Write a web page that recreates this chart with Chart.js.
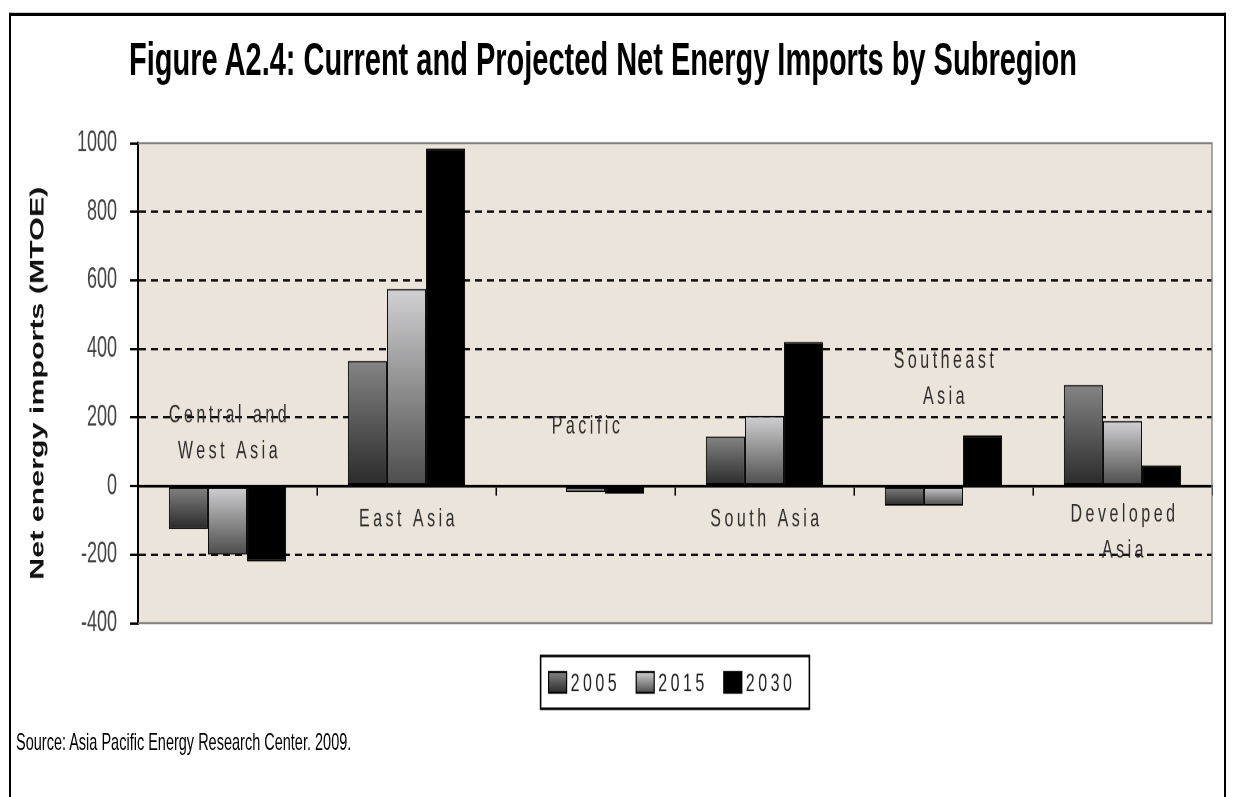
<!DOCTYPE html>
<html>
<head>
<meta charset="utf-8">
<title>Figure A2.4</title>
<script src="https://cdn.jsdelivr.net/npm/chart.js@4.4.1/dist/chart.umd.min.js"></script>
<style>
  html, body { margin: 0; padding: 0; background: #fff; }
  body { width: 1233px; height: 797px; overflow: hidden; position: relative; }
  /* the source picture is stretched vertically, so the whole page is drawn flat and scaled */
  #page {
    position: absolute; left: 0; top: 0; width: 1233px; height: 498px;
    transform: scaleY(1.6); transform-origin: 0 0;
    font-family: "Liberation Sans", Arial, sans-serif; color: #000;
  }
  #frame {
    position: absolute; left: 9px; top: 8px; width: 1217px; height: 600px;
    border: 2.5px solid #000; border-top-width: 2px; border-bottom: none; box-sizing: border-box;
  }
  #title {
    position: absolute; left: 0; top: 23px; width: 1206px; text-align: center;
    font-size: 29px; line-height: 29px; font-weight: bold;
  }
  #source { position: absolute; left: 16px; top: 456px; font-size: 14.5px; line-height: 16px; }
  #wrap { position: absolute; left: 0; top: 0; width: 1233px; height: 498px; }
</style>
</head>
<body>
<div id="page">
  <div id="frame"></div>
  <div id="title">Figure A2.4: Current and Projected Net Energy Imports by Subregion</div>
  <div id="wrap"><canvas id="importsChart"></canvas></div>
  <div id="source">Source: Asia Pacific Energy Research Center. 2009.</div>
</div>
<script>
// Chart data
const subregions = [
  ["Central and", "West Asia"],
  ["East Asia"],
  ["Pacific"],
  ["South Asia"],
  ["Southeast", "Asia"],
  ["Developed", "Asia"]
];
const years = ["2005", "2015", "2030"];
const imports2005 = [-125, 365, 0, 145, -57, 295];
const imports2015 = [-200, 575, -18, 205, -57, 190];
const imports2030 = [-220, 985, -22, 420, 148, 60];
const yTicks = [-400, -200, 0, 200, 400, 600, 800, 1000];

const fontFamily = '"Liberation Sans", Arial, sans-serif';
const fillTop = ["#858585", "#d2d2d4", "#000000"];
const fillBottom = ["#2a2a2a", "#4c4c4c", "#000000"];

// vertical gradient over each bar's own height
function barFill(i) {
  return function (context) {
    const chart = context.chart;
    if (context.type !== "data" || !chart.chartArea) return fillBottom[i];
    const yScale = chart.scales.y;
    const v = context.raw;
    const y1 = yScale.getPixelForValue(Math.max(v, 0));
    const y2 = yScale.getPixelForValue(Math.min(v, 0));
    if (y2 - y1 < 1) return fillBottom[i];
    const g = chart.ctx.createLinearGradient(0, y1, 0, y2);
    g.addColorStop(0, fillTop[i]);
    g.addColorStop(1, fillBottom[i]);
    return g;
  };
}

// beige plot background and the grey frame round it
const plotArea = {
  id: "plotArea",
  beforeDraw(chart) {
    const { ctx, chartArea: a } = chart;
    ctx.save();
    ctx.fillStyle = "#ebe4da";
    ctx.fillRect(a.left, a.top, a.right - a.left, a.bottom - a.top);
    ctx.restore();
  },
  beforeDatasetsDraw(chart) {
    const { ctx, chartArea: a } = chart;
    ctx.save();
    ctx.strokeStyle = "#7d7d7d";
    ctx.lineWidth = 1.3;
    ctx.beginPath();
    ctx.moveTo(a.left, a.top);
    ctx.lineTo(a.right, a.top);
    ctx.lineTo(a.right, a.bottom);
    ctx.lineTo(a.left, a.bottom);
    ctx.stroke();
    ctx.restore();
  }
};

// category names sit next to the zero line, above or below the bars
const categoryLabels = {
  id: "categoryLabels",
  afterDraw(chart, args, opts) {
    const ctx = chart.ctx;
    const x = chart.scales.x;
    const zero = chart.scales.y.getPixelForValue(0);
    ctx.save();
    ctx.font = "16px " + fontFamily;
    ctx.letterSpacing = "3.5px";
    ctx.fillStyle = "#2e2e2e";
    ctx.textAlign = "center";
    ctx.textBaseline = "middle";
    chart.data.labels.forEach((lines, i) => {
      const cx = x.getPixelForValue(i);
      lines.forEach((line, j) => {
        ctx.fillText(line, cx + 2, zero + opts.offsets[i] + j * opts.lineHeight);
      });
    });
    ctx.restore();
  }
};

// boxed legend under the plot
const boxLegend = {
  id: "boxLegend",
  afterDraw(chart, args, opts) {
    const ctx = chart.ctx;
    const a = chart.chartArea;
    ctx.save();
    ctx.font = "16px " + fontFamily;
    ctx.letterSpacing = "3.5px";
    const items = chart.data.datasets.map((ds, i) => ({ label: ds.label, i, w: ctx.measureText(ds.label).width }));
    const sw = 18, sh = 13, gap = 4, itemGap = 16, padL = 8, padR = 14, h = 33;
    let total = padL + padR;
    items.forEach((it, k) => { total += sw + gap + it.w + (k < items.length - 1 ? itemGap : 0); });
    const cx = (a.left + a.right) / 2;
    const cy = a.bottom + opts.offset;
    const left = cx - total / 2;
    ctx.strokeStyle = "#000";
    ctx.lineWidth = 1.6;
    ctx.strokeRect(left, cy - h / 2, total, h);
    let px = left + padL;
    items.forEach((it) => {
      const g = ctx.createLinearGradient(0, cy - sh / 2, 0, cy + sh / 2);
      g.addColorStop(0, fillTop[it.i]);
      g.addColorStop(1, fillBottom[it.i]);
      ctx.fillStyle = g;
      ctx.fillRect(px, cy - sh / 2, sw, sh);
      ctx.lineWidth = 1.2;
      ctx.strokeRect(px, cy - sh / 2, sw, sh);
      px += sw + gap;
      ctx.fillStyle = "#222";
      ctx.textBaseline = "middle";
      ctx.fillText(it.label, px, cy + 1);
      px += it.w + itemGap;
    });
    ctx.restore();
  }
};

const seriesValues = [imports2005, imports2015, imports2030];

new Chart(document.getElementById("importsChart"), {
  type: "bar",
  data: {
    labels: subregions,
    datasets: years.map((year, i) => ({
      label: year,
      data: seriesValues[i],
      backgroundColor: barFill(i),
      borderColor: "#000",
      borderWidth: 1,
      borderSkipped: false,
      barPercentage: 1,
      categoryPercentage: 0.655
    }))
  },
  options: {
    responsive: true,
    maintainAspectRatio: false,
    devicePixelRatio: 2,
    animation: false,
    layout: { padding: { left: 0, top: 89.5, right: 21, bottom: 108.5 } },
    scales: {
      x: {
        position: { y: 0 },
        afterFit: (s) => { s.height = 0; },
        grid: { offset: true, drawOnChartArea: false, color: "#000", lineWidth: 1.5, tickLength: 5 },
        ticks: { display: false },
        border: { color: "#000", width: 1.8 }
      },
      y: {
        min: -400,
        max: 1000,
        afterFit: (s) => { s.width = 138; },
        afterBuildTicks: (s) => { s.ticks = yTicks.map((v) => ({ value: v })); },
        ticks: {
          font: { family: fontFamily, size: 18 },
          color: "#444",
          padding: 13,
          callback: (v) => String(v)
        },
        grid: {
          color: (c) => (c.tick && [0, 1000, -400].includes(c.tick.value)) ? "rgba(0,0,0,0)" : "#111",
          lineWidth: 1.5,
          tickColor: "#000",
          tickLength: 8,
          tickWidth: 1.5
        },
        border: { color: "#000", width: 2, dash: [7, 5] },
        title: {
          display: true,
          text: "Net energy imports (MTOE)",
          font: { family: fontFamily, size: 19, weight: "bold" },
          color: "#111",
          padding: { top: 27, bottom: 0 }
        }
      }
    },
    plugins: {
      legend: { display: false },
      tooltip: { enabled: false },
      categoryLabels: { offsets: [-44, 21, -37, 21, -78, 18], lineHeight: 22.5 },
      boxLegend: { offset: 37 }
    }
  },
  plugins: [plotArea, categoryLabels, boxLegend]
});
</script>
</body>
</html>
